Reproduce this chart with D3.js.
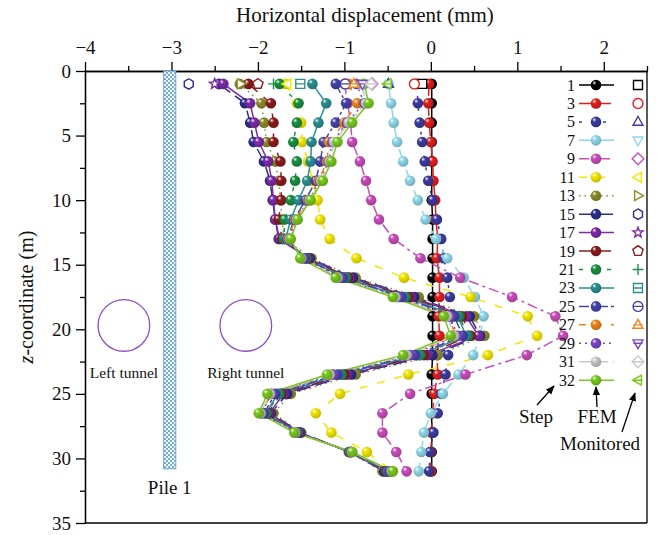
<!DOCTYPE html>
<html><head><meta charset="utf-8">
<script src="https://cdn.jsdelivr.net/npm/d3@7/dist/d3.min.js"></script>
<style>
html,body{margin:0;padding:0;background:#fff;}
svg{display:block;font-family:"Liberation Serif","Times New Roman",serif;}
</style></head><body>
<svg id="chart" width="657" height="535"></svg>
<script>
// Pile depths (m) where the FEM displacements are reported
const depths = [1, 2.5, 4, 5.5, 7, 8.5, 10, 11.5, 13, 14.5, 16, 17.5, 19, 20.5, 22, 23.5, 25, 26.5, 28, 29.5, 31];

// Excavation steps shown in the legend
const steps = ["1", "3", "5", "7", "9", "11", "13", "15", "17", "19", "21", "23", "25", "27", "29", "31", "32"];
const stepColors = ["#000000", "#e41e1e", "#3b3ba0", "#8fd8ea", "#c94dbb", "#f2e600", "#8c8c2a", "#2c2c8c",
  "#7d2aa8", "#8b1c1c", "#1a9040", "#2a9090", "#4444aa", "#f08418", "#7a48c8", "#c8c8c8", "#78c81e"];
const stepDashes = [null, "12,8", "3,9", "14,8", "10,4,3,4", "8,10", "1.5,4", "14,6", null, "12,8",
  "4,10", null, "10,3,3,3", "7,9", "2,4", "12,5", null];
const monitoredSymbols = ["square", "circle", "triUp", "triDown", "diamond", "triLeft", "triRight", "hexagon",
  "star", "pentagon", "plus", "squareLine", "circleLine", "triUpLine", "triDownLine", "diamondLine", "triLeftLine"];

// FEM horizontal displacement (mm) per step, one value per depth
const fem1  = [0.01, 0.01, 0.01, 0.01, 0.01, 0.01, 0.01, 0.02, 0.02, 0.02, 0.02, 0.02, 0.02, 0.02, 0.02, 0.01, 0.01, 0.01, 0.01, 0.01, 0.01];
const fem3  = [-0.02, -0.03, -0.02, 0.00, 0.02, 0.03, 0.05, 0.06, 0.08, 0.07, 0.10, 0.10, 0.09, 0.10, 0.07, 0.08, 0.04, 0.02, 0.01, 0.00, 0.00];
const fem5  = [-0.16, -0.15, -0.13, -0.10, -0.07, -0.03, 0.02, 0.07, 0.12, 0.15, 0.19, 0.22, 0.24, 0.25, 0.20, 0.17, 0.12, 0.08, 0.03, -0.01, -0.02];
const fem7  = [-0.49, -0.46, -0.43, -0.39, -0.32, -0.24, -0.15, -0.06, 0.06, 0.19, 0.38, 0.51, 0.61, 0.57, 0.49, 0.32, 0.14, 0.00, -0.08, -0.11, -0.14];
const fem9  = [-1.00, -0.96, -0.93, -0.91, -0.82, -0.75, -0.69, -0.60, -0.43, -0.12, 0.34, 0.94, 1.44, 1.53, 1.11, 0.40, -0.24, -0.56, -0.56, -0.40, -0.28];
const fem11 = [-1.68, -1.55, -1.50, -1.49, -1.42, -1.37, -1.31, -1.28, -1.17, -0.86, -0.31, 0.46, 1.12, 1.23, 0.66, -0.26, -1.05, -1.33, -1.15, -0.74, -0.44];
const fem13 = [-2.21, -1.96, -1.93, -1.90, -1.80, -1.76, -1.74, -1.72, -1.70, -1.38, -0.87, -0.14, 0.50, 0.62, 0.08, -0.87, -1.62, -1.82, -1.50, -0.95, -0.56];
const fem15 = [-2.45, -2.15, -2.09, -2.05, -1.93, -1.86, -1.83, -1.80, -1.76, -1.40, -0.90, -0.19, 0.45, 0.57, 0.02, -0.92, -1.66, -1.85, -1.51, -0.94, -0.54];
const fem17 = [-2.40, -2.09, -2.04, -1.99, -1.88, -1.84, -1.82, -1.80, -1.75, -1.42, -0.94, -0.23, 0.41, 0.55, -0.04, -0.97, -1.70, -1.87, -1.52, -0.94, -0.52];
const fem19 = [-2.11, -1.85, -1.82, -1.82, -1.74, -1.73, -1.73, -1.76, -1.72, -1.43, -0.96, -0.26, 0.36, 0.46, -0.08, -1.00, -1.73, -1.89, -1.53, -0.93, -0.51];
const fem21 = [-1.75, -1.53, -1.55, -1.59, -1.55, -1.57, -1.62, -1.69, -1.70, -1.44, -0.98, -0.29, 0.33, 0.43, -0.12, -1.03, -1.75, -1.90, -1.54, -0.93, -0.50];
const fem23 = [-1.37, -1.21, -1.30, -1.38, -1.39, -1.43, -1.53, -1.62, -1.68, -1.45, -1.00, -0.31, 0.31, 0.41, -0.14, -1.05, -1.77, -1.91, -1.54, -0.93, -0.49];
const fem25 = [-1.10, -0.98, -1.10, -1.24, -1.28, -1.33, -1.45, -1.58, -1.66, -1.46, -1.02, -0.34, 0.27, 0.37, -0.18, -1.08, -1.80, -1.93, -1.55, -0.92, -0.48];
const fem27 = [-0.95, -0.85, -1.00, -1.18, -1.20, -1.30, -1.42, -1.57, -1.65, -1.49, -1.07, -0.40, 0.20, 0.29, -0.26, -1.15, -1.85, -1.96, -1.57, -0.92, -0.46];
const fem29 = [-0.86, -0.77, -0.97, -1.14, -1.18, -1.28, -1.41, -1.56, -1.64, -1.48, -1.05, -0.38, 0.22, 0.31, -0.24, -1.13, -1.84, -1.96, -1.56, -0.92, -0.46];
const fem31 = [-0.80, -0.75, -0.95, -1.12, -1.17, -1.27, -1.40, -1.55, -1.63, -1.50, -1.08, -0.41, 0.19, 0.27, -0.28, -1.17, -1.86, -1.97, -1.57, -0.91, -0.45];
const fem32 = [-0.77, -0.72, -0.91, -1.08, -1.15, -1.25, -1.39, -1.54, -1.62, -1.51, -1.10, -0.44, 0.15, 0.23, -0.32, -1.20, -1.89, -1.99, -1.58, -0.91, -0.44];
const femSeries = [fem1, fem3, fem5, fem7, fem9, fem11, fem13, fem15, fem17, fem19, fem21, fem23, fem25, fem27, fem29, fem31, fem32];

// Monitored pile-top displacement (mm) per step, measured at the pile head
const monitoredDepth = 1;
const monitored = [-0.10, -0.19, -0.49, -0.78, -0.68, -1.66, -2.20, -2.80, -2.50, -2.00, -1.82, -1.51, -0.99, -0.89, -0.79, -0.69, -0.50];

// Axis ticks
const xMajor = [-4, -3, -2, -1, 0, 1, 2];
const xMinor = [-3.5, -2.5, -1.5, -0.5, 0.5, 1.5, 2.5];
const yMajor = [0, 5, 10, 15, 20, 25, 30, 35];
const yMinor = [2.5, 7.5, 12.5, 17.5, 22.5, 27.5, 32.5];

// Pile and tunnels (mm across, m down; tunnel radius in m)
const pile = {x0: -3.09, x1: -2.95, z0: 0, z1: 30.8, label: "Pile 1"};
const tunnels = [
  {label: "Left tunnel", x: -3.55, z: 19.7, r: 2.0},
  {label: "Right tunnel", x: -2.14, z: 19.7, r: 2.0}
];

const svg = d3.select("#chart");
const x = d3.scaleLinear().domain([-4, 2.5]).range([85, 647]);
const y = d3.scaleLinear().domain([0, 35]).range([71, 523]);

const defs = svg.append("defs");
stepColors.forEach((c, i) => {
  const g = defs.append("radialGradient").attr("id", "ball" + i)
    .attr("cx", "42%").attr("cy", "38%").attr("r", "62%").attr("fx", "32%").attr("fy", "28%");
  g.append("stop").attr("offset", "0%").attr("stop-color", "#ffffff");
  g.append("stop").attr("offset", "32%").attr("stop-color", c);
  g.append("stop").attr("offset", "100%").attr("stop-color", d3.color(c).darker(0.6));
});
const pat = defs.append("pattern").attr("id", "pileFill").attr("width", 4).attr("height", 4)
  .attr("patternUnits", "userSpaceOnUse");
pat.append("rect").attr("width", 4).attr("height", 4).attr("fill", "#6aa6dc");
pat.append("circle").attr("cx", 1).attr("cy", 1).attr("r", 1.15).attr("fill", "#ffffff");
pat.append("circle").attr("cx", 3).attr("cy", 3).attr("r", 1.15).attr("fill", "#ffffff");
defs.append("marker").attr("id", "arrow").attr("viewBox", "0 0 10 10").attr("refX", 9).attr("refY", 5)
  .attr("markerWidth", 9).attr("markerHeight", 9).attr("markerUnits", "userSpaceOnUse").attr("orient", "auto")
  .append("path").attr("d", "M0,1 L10,5 L0,9 Z").attr("fill", "#000");

// Open marker shapes
function symPath(type, r) {
  const poly = pts => "M" + pts.map(p => p[0].toFixed(2) + "," + p[1].toFixed(2)).join("L") + "Z";
  const ngon = (n, rad, rot) => d3.range(n).map(k => {
    const a = rot + k * 2 * Math.PI / n; return [rad * Math.sin(a), -rad * Math.cos(a)];
  });
  const circ = rr => `M${-rr},0A${rr},${rr} 0 1,0 ${rr},0A${rr},${rr} 0 1,0 ${-rr},0Z`;
  const base = type.replace("Line", "");
  let d;
  switch (base) {
    case "square": d = poly([[-r, -r], [r, -r], [r, r], [-r, r]]); break;
    case "circle": d = circ(r * 1.1); break;
    case "triUp": d = poly([[0, -r * 1.2], [r * 1.1, r * 0.75], [-r * 1.1, r * 0.75]]); break;
    case "triDown": d = poly([[0, r * 1.2], [r * 1.1, -r * 0.75], [-r * 1.1, -r * 0.75]]); break;
    case "triLeft": d = poly([[-r * 1.2, 0], [r * 0.75, -r * 1.1], [r * 0.75, r * 1.1]]); break;
    case "triRight": d = poly([[r * 1.2, 0], [-r * 0.75, -r * 1.1], [-r * 0.75, r * 1.1]]); break;
    case "diamond": d = poly([[0, -r * 1.3], [r * 1.3, 0], [0, r * 1.3], [-r * 1.3, 0]]); break;
    case "hexagon": d = poly(ngon(6, r * 1.15, 0)); break;
    case "pentagon": d = poly(ngon(5, r * 1.2, 0)); break;
    case "star": {
      const pts = d3.range(10).map(k => {
        const a = k * Math.PI / 5, rad = k % 2 ? r * 0.5 : r * 1.2;
        return [rad * Math.sin(a), -rad * Math.cos(a)];
      });
      d = poly(pts); break;
    }
    case "plus": d = `M${-r * 1.2},0H${r * 1.2}M0,${-r * 1.2}V${r * 1.2}`; break;
  }
  if (type.endsWith("Line")) d += `M${-r},0H${r}`;
  return d;
}

// Frame and axes
const axisStyle = g => {
  g.selectAll("path.domain").attr("stroke", "#000").attr("stroke-width", 1.3);
  g.selectAll(".tick line").attr("stroke", "#000").attr("stroke-width", 1.3);
  g.selectAll("text").attr("font-family", "Liberation Serif, serif").attr("font-size", 19).attr("fill", "#111");
};
svg.append("g").attr("transform", `translate(0,${y(0)})`)
  .call(d3.axisTop(x).tickValues(xMinor).tickSize(5).tickSizeOuter(0).tickFormat(""))
  .call(axisStyle);
svg.append("g").attr("transform", `translate(0,${y(0)})`)
  .call(d3.axisTop(x).tickValues(xMajor).tickSize(9).tickSizeOuter(0).tickPadding(8).tickFormat(d3.format("d")))
  .call(axisStyle);
svg.append("g").attr("transform", `translate(${x(-4)},0)`)
  .call(d3.axisLeft(y).tickValues(yMinor).tickSize(5).tickSizeOuter(0).tickFormat(""))
  .call(axisStyle);
svg.append("g").attr("transform", `translate(${x(-4)},0)`)
  .call(d3.axisLeft(y).tickValues(yMajor).tickSize(9).tickSizeOuter(0).tickPadding(5).tickFormat(d3.format("d")))
  .call(axisStyle);
svg.append("line").attr("x1", x(-4)).attr("x2", x(2.5)).attr("y1", y(35)).attr("y2", y(35))
  .attr("stroke", "#000").attr("stroke-width", 1.3);
svg.append("line").attr("x1", x(2.5)).attr("x2", x(2.5)).attr("y1", y(0)).attr("y2", y(35))
  .attr("stroke", "#000").attr("stroke-width", 1.3);

// Axis titles
svg.append("text").attr("x", 365).attr("y", 22).attr("text-anchor", "middle")
  .attr("font-size", 21).attr("fill", "#111").text("Horizontal displacement (mm)");
const yt = svg.append("text").attr("transform", `translate(33,${y(17.5)}) rotate(-90)`)
  .attr("text-anchor", "middle").attr("font-size", 20).attr("fill", "#111");
yt.append("tspan").attr("font-style", "italic").text("z");
yt.append("tspan").text("-coordinate (m)");

// Pile
svg.append("rect").attr("x", x(pile.x0)).attr("y", y(pile.z0))
  .attr("width", x(pile.x1) - x(pile.x0)).attr("height", y(pile.z1) - y(pile.z0))
  .attr("fill", "url(#pileFill)").attr("stroke", "#6aa6dc").attr("stroke-width", 1);
svg.append("text").attr("x", (x(pile.x0) + x(pile.x1)) / 2).attr("y", y(pile.z1) + 25)
  .attr("text-anchor", "middle").attr("font-size", 19).attr("fill", "#111").text(pile.label);

// Tunnels
tunnels.forEach(t => {
  svg.append("circle").attr("cx", x(t.x)).attr("cy", y(t.z)).attr("r", y(t.z + t.r) - y(t.z))
    .attr("fill", "none").attr("stroke", "#8c4fc8").attr("stroke-width", 1.3);
  svg.append("text").attr("x", x(t.x)).attr("y", y(t.z + t.r) + 27).attr("text-anchor", "middle")
    .attr("font-size", 15.5).attr("fill", "#111").text(t.label);
});

// FEM profiles
const line = d3.line().x(d => x(d[0])).y(d => y(d[1]));
femSeries.forEach((vals, i) => {
  const pts = vals.map((v, k) => [v, depths[k]]);
  svg.append("path").datum(pts).attr("d", line).attr("fill", "none")
    .attr("stroke", stepColors[i]).attr("stroke-width", 1.5)
    .attr("stroke-dasharray", stepDashes[i]);
});
femSeries.forEach((vals, i) => {
  svg.append("g").selectAll("circle").data(vals).join("circle")
    .attr("cx", d => x(d)).attr("cy", (d, k) => y(depths[k])).attr("r", 5.3)
    .attr("fill", `url(#ball${i})`);
});

// Monitored pile-head values
monitored.forEach((v, i) => {
  svg.append("path").attr("transform", `translate(${x(v)},${y(monitoredDepth)})`)
    .attr("d", symPath(monitoredSymbols[i], 4.5)).attr("fill", "#fff")
    .attr("stroke", stepColors[i]).attr("stroke-width", 1.4);
});

// Legend
const lg = svg.append("g");
steps.forEach((s, i) => {
  const cy = 85 + i * 18.45;
  lg.append("text").attr("x", 575).attr("y", cy + 5.5).attr("text-anchor", "end")
    .attr("font-size", 16).attr("fill", "#111").text(s);
  lg.append("line").attr("x1", 579).attr("x2", 614).attr("y1", cy).attr("y2", cy)
    .attr("stroke", stepColors[i]).attr("stroke-width", 1.5).attr("stroke-dasharray", stepDashes[i]);
  lg.append("circle").attr("cx", 596).attr("cy", cy).attr("r", 5.3).attr("fill", `url(#ball${i})`);
  lg.append("path").attr("transform", `translate(638,${cy})`).attr("d", symPath(monitoredSymbols[i], 4.5))
    .attr("fill", "#fff").attr("stroke", stepColors[i]).attr("stroke-width", 1.4);
});

// Legend annotations
const notes = [
  {text: "Step", tx: 536, ty: 423, x1: 537, y1: 405, x2: 554, y2: 386},
  {text: "FEM", tx: 597, ty: 423, x1: 597, y1: 407, x2: 596, y2: 387},
  {text: "Monitored", tx: 600, ty: 450, x1: 622, y1: 432, x2: 635, y2: 393}
];
notes.forEach(n => {
  svg.append("text").attr("x", n.tx).attr("y", n.ty).attr("text-anchor", "middle")
    .attr("font-size", 19).attr("fill", "#111").text(n.text);
  svg.append("line").attr("x1", n.x1).attr("y1", n.y1).attr("x2", n.x2).attr("y2", n.y2)
    .attr("stroke", "#000").attr("stroke-width", 1.3).attr("marker-end", "url(#arrow)");
});
</script>
</body></html>
